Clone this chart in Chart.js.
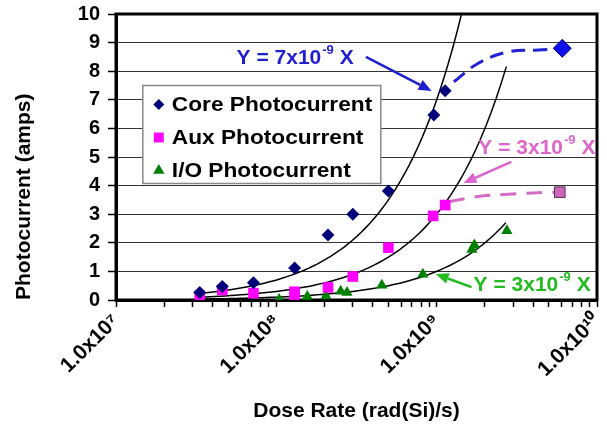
<!DOCTYPE html>
<html>
<head>
<meta charset="utf-8">
<script src="https://cdn.jsdelivr.net/npm/chart.js@4"></script>
<style>
  html, body { margin: 0; padding: 0; background: #fff; }
  #wrap { width: 607px; height: 430px; }
</style>
</head>
<body>
<div id="wrap"><canvas id="chart1"></canvas></div>
<script>
// measured photocurrent (amps) against dose rate (rad(Si)/s)
let coreDose = [3.33e7, 4.6e7, 7.2e7, 1.3e8, 2.1e8, 3.0e8, 5.0e8, 9.6e8, 1.13e9];
let coreAmps = [0.26, 0.47, 0.6, 1.12, 2.27, 3.0, 3.81, 6.47, 7.32];
let auxDose = [3.33e7, 4.6e7, 7.2e7, 1.3e8, 1.3e8, 2.1e8, 3.0e8, 5.0e8, 9.5e8, 1.13e9];
let auxAmps = [0.14, 0.35, 0.24, 0.29, 0.12, 0.44, 0.82, 1.83, 2.94, 3.32];
let ioDose = [1.04e8, 1.56e8, 2.04e8, 2.52e8, 2.76e8, 4.55e8, 8.2e8, 1.66e9, 1.72e9, 2.74e9];
let ioAmps = [0.02, 0.12, 0.14, 0.31, 0.26, 0.52, 0.9, 1.77, 1.92, 2.42];

// the dashed runs out to the highest dose rate
let coreHighDose = [1.28e9, 1.82e9, 2.8e9, 4.3e9, 6.07e9];
let coreHighAmps = [7.63, 8.28, 8.68, 8.74, 8.8];
let auxHighDose = [1.19e9, 1.82e9, 2.8e9, 4.3e9, 5.86e9];
let auxHighAmps = [3.44, 3.62, 3.7, 3.75, 3.77];

// straight fits Y = k X (black curves on the log axis)
let fitSlope = [7e-9, 3e-9, 1e-9];
let fitFrom = [3.33e7, 3.33e7, 3.33e7];
let fitTo = [1.43e9, 2.72e9, 2.7e9];

let seriesNames = ['Core Photocurrent', 'Aux Photocurrent', 'I/O Photocurrent'];
let fitLabels = ['Y = 7x10', 'Y = 3x10', 'Y = 3x10'];

// x tick values: 1..9 in every decade
let decades = [7, 8, 9];
let mults = [1, 2, 3, 4, 5, 6, 7, 8, 9];
let xTicks = [];
decades.forEach(d => mults.forEach(m => xTicks.push(m * Math.pow(10, d))));
xTicks.push(1e10);

function pts(xs, ys) { return xs.map((x, i) => ({ x: x, y: ys[i] })); }

function fitLine(k, a, b) {
  let out = [];
  let n = 60;
  for (let i = 0; i <= n; i++) {
    let x = a * Math.pow(b / a, i / n);
    out.push({ x: x, y: k * x });
  }
  return out;
}

let sup = { '0': '\u2070', '1': '\u00b9', '7': '\u2077', '8': '\u2078', '9': '\u2079' };

const FONT = "'Liberation Sans', Arial, sans-serif";

// box round the plot
let frame = {
  id: 'frame',
  beforeDatasetsDraw(chart) {
    let a = chart.chartArea, ctx = chart.ctx;
    ctx.save();
    ctx.strokeStyle = '#000';
    ctx.lineWidth = 3;
    ctx.strokeRect(a.left, a.top, a.right - a.left, a.bottom - a.top);
    ctx.restore();
  }
};

// legend box inside the plot
let legendBox = {
  id: 'legendBox',
  afterDatasetsDraw(chart) {
    let ctx = chart.ctx;
    let x = chart.scales.x, y = chart.scales.y;
    let left = x.getPixelForValue(1.47e7), top = y.getPixelForValue(7.5);
    let w = 238, h = 98;
    ctx.save();
    ctx.fillStyle = '#fff';
    ctx.fillRect(left, top, w, h);
    ctx.strokeStyle = '#888';
    ctx.lineWidth = 1.5;
    ctx.strokeRect(left, top, w, h);
    let items = chart.data.datasets.filter(d => d.inLegend);
    items.forEach((d, i) => {
      let cy = top + 19 + i * 33;
      ctx.fillStyle = d.backgroundColor;
      ctx.strokeStyle = d.backgroundColor;
      Chart.helpers.drawPoint(ctx, { pointStyle: d.pointStyle, radius: d.legendRadius, borderWidth: 0, rotation: 0 }, left + 16, cy);
      ctx.fillStyle = '#000';
      ctx.font = 'bold 21px ' + FONT;
      ctx.textBaseline = 'middle';
      ctx.textAlign = 'left';
      ctx.save();
      ctx.translate(left + 29, cy + 1);
      ctx.scale(1.08, 1);
      ctx.fillText(d.label, 0, 0);
      ctx.restore();
    });
    ctx.restore();
  }
};

// fit equations with arrows, placed in data coordinates
let notes = [
  { text: fitLabels[0], color: '#1f1fd0', at: [5.65e7, 8.46], tail: [3.62e8, 8.5], tip: [9.3e8, 7.31] },
  { text: fitLabels[1], color: '#dd66cc', at: [1.82e9, 5.31], tail: [2.92e9, 4.83], tip: [1.47e9, 4.09] },
  { text: fitLabels[2], color: '#22bb22', at: [1.7e9, 0.52], tail: [1.65e9, 0.45], tip: [9.86e8, 0.91] }
];

let noteDraw = {
  id: 'noteDraw',
  afterDatasetsDraw(chart) {
    let ctx = chart.ctx, sx = chart.scales.x, sy = chart.scales.y;
    ctx.save();
    notes.forEach(n => {
      let x0 = sx.getPixelForValue(n.tail[0]), y0 = sy.getPixelForValue(n.tail[1]);
      let x1 = sx.getPixelForValue(n.tip[0]), y1 = sy.getPixelForValue(n.tip[1]);
      let ang = Math.atan2(y1 - y0, x1 - x0);
      let hl = 13, hw = 5.5;
      ctx.strokeStyle = n.color;
      ctx.fillStyle = n.color;
      ctx.lineWidth = 2.5;
      ctx.beginPath();
      ctx.moveTo(x0, y0);
      ctx.lineTo(x1 - hl * Math.cos(ang), y1 - hl * Math.sin(ang));
      ctx.stroke();
      ctx.beginPath();
      ctx.moveTo(x1, y1);
      ctx.lineTo(x1 - hl * Math.cos(ang) + hw * Math.sin(ang), y1 - hl * Math.sin(ang) - hw * Math.cos(ang));
      ctx.lineTo(x1 - hl * Math.cos(ang) - hw * Math.sin(ang), y1 - hl * Math.sin(ang) + hw * Math.cos(ang));
      ctx.closePath();
      ctx.fill();

      let tx = sx.getPixelForValue(n.at[0]), ty = sy.getPixelForValue(n.at[1]);
      ctx.textBaseline = 'middle';
      ctx.textAlign = 'left';
      ctx.font = 'bold 21px ' + FONT;
      ctx.fillText(n.text, tx, ty);
      let w1 = ctx.measureText(n.text).width;
      ctx.font = 'bold 13px ' + FONT;
      ctx.fillText('-9', tx + w1 + 1, ty - 8);
      let w2 = ctx.measureText('-9').width;
      ctx.font = 'bold 21px ' + FONT;
      ctx.fillText(' X', tx + w1 + w2 + 1, ty);
    });
    ctx.restore();
  }
};

let datasets = [
  { type: 'line', data: fitLine(fitSlope[0], fitFrom[0], fitTo[0]), borderColor: '#000', borderWidth: 1.5, pointRadius: 0, order: 5 },
  { type: 'line', data: fitLine(fitSlope[1], fitFrom[1], fitTo[1]), borderColor: '#000', borderWidth: 1.5, pointRadius: 0, order: 5 },
  { type: 'line', data: fitLine(fitSlope[2], fitFrom[2], fitTo[2]), borderColor: '#000', borderWidth: 1.5, pointRadius: 0, order: 5 },
  { type: 'line', data: pts(coreHighDose, coreHighAmps), borderColor: '#2020d8', borderWidth: 3, borderDash: [14, 8],
    tension: 0.4, pointRadius: [0, 0, 0, 0, 9], pointStyle: 'rectRot', pointBackgroundColor: '#1010e8', pointBorderColor: '#000070', pointBorderWidth: 1, order: 4 },
  { type: 'line', data: pts(auxHighDose, auxHighAmps), borderColor: '#d46cc6', borderWidth: 3, borderDash: [16, 10],
    tension: 0.3, pointRadius: [0, 0, 0, 0, 7.5], pointStyle: 'rect', pointBackgroundColor: '#cc66bb', pointBorderColor: '#553355', pointBorderWidth: 1, order: 4 },
  { type: 'scatter', label: seriesNames[0], data: pts(coreDose, coreAmps), pointStyle: 'rectRot', radius: 6.5, backgroundColor: '#00007a', borderWidth: 0, inLegend: true, legendRadius: 5.5, order: 1 },
  { type: 'scatter', label: seriesNames[1], data: pts(auxDose, auxAmps), pointStyle: 'rect', radius: 7.5, backgroundColor: '#ff00ff', borderWidth: 0, inLegend: true, legendRadius: 7, order: 2 },
  { type: 'scatter', label: seriesNames[2], data: pts(ioDose, ioAmps), pointStyle: 'triangle', radius: 6.5, backgroundColor: '#008000', borderWidth: 0, inLegend: true, legendRadius: 6.5, order: 3 }
];

let options = {
  type: 'scatter',
  data: { datasets: datasets },
  options: {
    responsive: true,
    maintainAspectRatio: false,
    animation: false,
    layout: { padding: { top: 14, right: 10, left: 0, bottom: 0 } },
    plugins: { legend: { display: false }, tooltip: { enabled: false } },
    scales: {
      x: {
        type: 'logarithmic',
        min: 1e7,
        max: 1e10,
        afterBuildTicks: s => { s.ticks = xTicks.map(v => ({ value: v })); },
        afterFit: s => { s.height = 130; s.paddingRight = 0; s.paddingLeft = 0; },
        grid: { drawOnChartArea: false, drawTicks: true, tickLength: 7, tickColor: '#000', tickWidth: 1.5 },
        border: { color: '#000', width: 3 },
        ticks: {
          autoSkip: false,
          minRotation: 45,
          maxRotation: 45,
          padding: 2,
          color: '#000',
          font: { family: FONT, size: 21, weight: 'bold' },
          callback: v => {
            let e = Math.round(Math.log10(v));
            if (Math.abs(v - Math.pow(10, e)) > 1) return '';
            return '1.0x10' + String(e).split('').map(c => sup[c]).join('');
          }
        },
        title: { display: true, text: 'Dose Rate (rad(Si)/s)', color: '#000', font: { family: FONT, size: 21, weight: 'bold' }, padding: { top: 0, bottom: 6 } }
      },
      y: {
        min: 0,
        max: 10,
        afterFit: s => { s.width = 116; s.paddingTop = 0; s.paddingBottom = 0; },
        grid: { color: '#333', lineWidth: 1, tickLength: 8, tickColor: '#000', tickWidth: 1.5 },
        border: { color: '#000', width: 3 },
        ticks: { stepSize: 1, padding: 8, color: '#000', font: { family: FONT, size: 20, weight: 'bold' } },
        title: { display: true, align: 'start', text: 'Photocurrent (amps)', color: '#000', font: { family: FONT, size: 21, weight: 'bold' }, padding: { top: 12, bottom: 0 } }
      }
    }
  },
  plugins: [frame, legendBox, noteDraw]
};

let chart = new Chart(document.getElementById('chart1'), options);
</script>
</body>
</html>
